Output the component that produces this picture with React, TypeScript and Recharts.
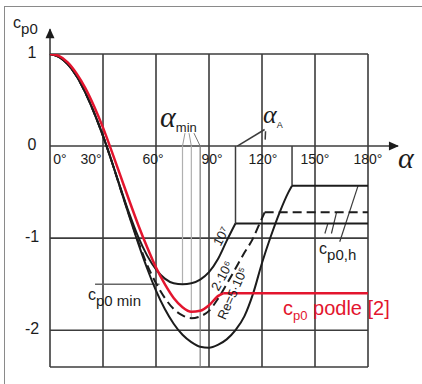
import React from 'react';
import { LineChart, Line, XAxis, YAxis, ReferenceLine, ReferenceDot } from 'recharts';

// pressure coefficient cp0 vs angle alpha [deg]
const re5e5 = [
  { a: 0, cp: 1 }, { a: 5, cp: 0.97 }, { a: 10, cp: 0.89 }, { a: 15, cp: 0.76 }, { a: 20, cp: 0.58 },
  { a: 25, cp: 0.36 }, { a: 30, cp: 0.11 }, { a: 35, cp: -0.17 }, { a: 40, cp: -0.47 }, { a: 45, cp: -0.77 },
  { a: 50, cp: -1.06 }, { a: 55, cp: -1.33 }, { a: 60, cp: -1.57 }, { a: 65, cp: -1.77 }, { a: 70, cp: -1.93 },
  { a: 75, cp: -2.05 }, { a: 80, cp: -2.13 }, { a: 85, cp: -2.18 }, { a: 90, cp: -2.19 }, { a: 95, cp: -2.16 },
  { a: 100, cp: -2.1 }, { a: 105, cp: -2.0 }, { a: 110, cp: -1.85 }, { a: 115, cp: -1.6 }, { a: 120, cp: -1.27 },
  { a: 125, cp: -0.98 }, { a: 130, cp: -0.72 }, { a: 135, cp: -0.5 }, { a: 137, cp: -0.43 }, { a: 180, cp: -0.43 },
];

const re2e6 = [
  { a: 0, cp: 1 }, { a: 5, cp: 0.97 }, { a: 10, cp: 0.89 }, { a: 15, cp: 0.76 }, { a: 20, cp: 0.58 },
  { a: 25, cp: 0.36 }, { a: 30, cp: 0.11 }, { a: 35, cp: -0.17 }, { a: 40, cp: -0.47 }, { a: 45, cp: -0.76 },
  { a: 50, cp: -1.04 }, { a: 55, cp: -1.29 }, { a: 60, cp: -1.49 }, { a: 65, cp: -1.65 }, { a: 70, cp: -1.77 },
  { a: 75, cp: -1.84 }, { a: 80, cp: -1.87 }, { a: 85, cp: -1.85 }, { a: 90, cp: -1.79 }, { a: 95, cp: -1.66 },
  { a: 100, cp: -1.5 }, { a: 105, cp: -1.33 }, { a: 110, cp: -1.16 }, { a: 115, cp: -1.0 }, { a: 118, cp: -0.87 },
  { a: 121.5, cp: -0.72 }, { a: 180, cp: -0.72 },
];

const re1e7 = [
  { a: 0, cp: 1 }, { a: 5, cp: 0.97 }, { a: 10, cp: 0.89 }, { a: 15, cp: 0.76 }, { a: 20, cp: 0.58 },
  { a: 25, cp: 0.36 }, { a: 30, cp: 0.11 }, { a: 35, cp: -0.17 }, { a: 40, cp: -0.46 }, { a: 45, cp: -0.74 },
  { a: 50, cp: -0.99 }, { a: 55, cp: -1.19 }, { a: 60, cp: -1.34 }, { a: 65, cp: -1.44 }, { a: 70, cp: -1.49 },
  { a: 75, cp: -1.5 }, { a: 80, cp: -1.49 }, { a: 85, cp: -1.45 }, { a: 90, cp: -1.37 }, { a: 95, cp: -1.23 },
  { a: 100, cp: -1.03 }, { a: 105, cp: -0.84 }, { a: 180, cp: -0.84 },
];

const podle2 = [
  { a: 0, cp: 1 }, { a: 5, cp: 0.98 }, { a: 10, cp: 0.91 }, { a: 15, cp: 0.79 }, { a: 20, cp: 0.63 },
  { a: 25, cp: 0.43 }, { a: 30, cp: 0.2 }, { a: 35, cp: -0.06 }, { a: 40, cp: -0.33 }, { a: 45, cp: -0.6 },
  { a: 50, cp: -0.86 }, { a: 55, cp: -1.1 }, { a: 60, cp: -1.32 }, { a: 65, cp: -1.5 }, { a: 70, cp: -1.65 },
  { a: 75, cp: -1.75 }, { a: 80, cp: -1.8 }, { a: 85, cp: -1.79 }, { a: 90, cp: -1.73 }, { a: 95, cp: -1.63 },
  { a: 98, cp: -1.6 }, { a: 180, cp: -1.6 },
];

const xTicks = [0, 30, 60, 90, 120, 150, 180];
const xTickLabels = ['0°', '30°', '60°', '90°', '120°', '150°', '180°'];
const yTicks = [1, 0, -1, -2];
const gridX = [30, 60, 90, 120, 150, 180];
const gridY = [1, -1, -2, -2.4];
const alphaMin = [75, 80, 85];
const cpMin = [-1.5, -1.87, -2.4];
const alphaA = [105, 137];
const cpH = [-0.84, -0.43];

// small pixel nudges for the x tick labels
const xLabelShift = [10, -12, -3, 3, 1, 0, 0];

const INK = '#1c1c1c';
const GRID = '#3c3c3c';
const RED = '#e3152e';
const SANS = '"Liberation Sans", Arial, sans-serif';
const SERIF = '"Liberation Serif", "Times New Roman", serif';

const note = (key: string, a: number, cp: number, draw: (cx: number, cy: number) => React.ReactElement) => (
  <ReferenceDot key={key} x={a} y={cp} r={1} ifOverflow="visible" fill="none" stroke="none"
    shape={(p: any) => draw(p.cx, p.cy)} />
);

const seg = (key: string, pts: [number, number][], stroke: string, width = 1.5) => (
  <ReferenceLine key={key} segment={pts.map(([x, y]) => ({ x, y }))} stroke={stroke} strokeWidth={width} ifOverflow="visible" />
);

const curve = (key: string, data: { a: number; cp: number }[], color: string, width: number, dash?: string) => [
  <Line key={key + 'c'} data={data.slice(0, -1)} dataKey="cp" type="monotone" stroke={color} strokeWidth={width}
    strokeDasharray={dash} dot={false} isAnimationActive={false} />,
  <Line key={key + 'p'} data={data.slice(-2)} dataKey="cp" type="linear" stroke={color} strokeWidth={width}
    strokeDasharray={dash} dot={false} isAnimationActive={false} />,
];

const YTick = ({ x, y, payload }: any) => (
  <text x={x - 10} y={y + 4} textAnchor="middle" fontSize={16} fill={INK} fontFamily={SANS}>{payload.value}</text>
);

export default function App() {
  return (
    <div style={{ position: 'relative', width: 422, height: 384, background: '#fff' }}>
      <style>{'body{margin:0}'}</style>
      <div style={{ position: 'absolute', left: 4, top: 6, right: 0, bottom: 0, borderTop: '1.5px solid #8a8a8a', borderLeft: '1.5px solid #8a8a8a' }} />
      <div style={{ position: 'absolute', left: 0, top: 0 }}>
        <LineChart width={422} height={384} margin={{ top: 54, right: 54, bottom: 17, left: 0 }}>
          <XAxis dataKey="a" type="number" domain={[0, 180]} ticks={xTicks} hide allowDuplicatedCategory={false} />
          <YAxis type="number" domain={[-2.4, 1]} ticks={yTicks} width={50} axisLine={false} tickLine={false}
            tick={<YTick />} interval={0} allowDataOverflow />

          {gridX.map((g) => <ReferenceLine key={'gx' + g} x={g} stroke={GRID} strokeWidth={1.6} />)}
          {gridY.map((g) => <ReferenceLine key={'gy' + g} y={g} stroke={GRID} strokeWidth={1.6} />)}

          {/* axes with arrows */}
          {seg('xaxis', [[0, 0], [197, 0]], GRID, 1.6)}
          {seg('yaxis', [[0, -2.4], [0, 1.27]], GRID, 1.6)}
          {note('xarrow', 197.5, 0, (cx, cy) => <path d={`M${cx} ${cy} l-10 -4.5 l0 9 z`} fill={INK} />)}
          {note('yarrow', 0, 1.28, (cx, cy) => <path d={`M${cx} ${cy} l-4.5 10 l9 0 z`} fill={INK} />)}

          {/* helper lines for alpha_min, alpha_A, cp0 min, cp0,h */}
          {alphaMin.map((a, i) => seg('am' + a, [[a, 0], [a, cpMin[i]]], i < 2 ? '#b0b0b0' : '#7a7a7a', 1.2))}
          {seg('amp1', [[76.4, 0.14], [75, 0]], '#999', 1)}
          {seg('amp2', [[78.7, 0.14], [80, 0]], '#999', 1)}
          {seg('amp3', [[81.5, 0.14], [85, 0]], '#777', 1)}
          {alphaA.map((a, i) => seg('aa' + a, [[a, 0], [a, cpH[i]]], GRID, 1.5))}
          {seg('aap1', [[106, 0], [121.5, 0.18]], GRID, 1.5)}
          {seg('aap2', [[122, 0.16], [121.8, 0.07]], GRID, 1.5)}
          {seg('aap3', [[129.6, 0.135], [134.5, 0.1], [137, 0]], GRID, 1.5)}
          {seg('cpmin', [[25.5, -1.5], [62, -1.5]], '#666', 1.5)}
          {seg('h1', [[155.6, -0.95], [157.3, -0.84]], GRID, 1.2)}
          {seg('h2', [[159.3, -0.95], [162.2, -0.72]], GRID, 1.2)}
          {seg('h3', [[164, -1.04], [174.4, -0.43]], GRID, 1.2)}

          {curve('re7', re1e7, INK, 2)}
          {curve('re6', re2e6, INK, 2, '9 5')}
          {curve('re5', re5e5, INK, 2)}
          {curve('red', podle2, RED, 2.5)}

          {/* x tick labels just under the alpha axis */}
          {xTicks.map((t, i) => note('xt' + t, t, 0, (cx, cy) => (
            <text x={cx + xLabelShift[i]} y={cy + 18} textAnchor="middle" fontSize={14} fill={INK} fontFamily={SANS}>{xTickLabels[i]}</text>
          )))}

          {note('ylab', -20.9, 1.282, (cx, cy) => (
            <text x={cx} y={cy} fontSize={16} fill={INK} fontFamily={SANS}>c<tspan dy={6} fontSize={15}>p0</tspan></text>
          ))}
          {note('xlab', 201.5, -0.238, (cx, cy) => (
            <text x={cx} y={cy} textAnchor="middle" fontSize={30} fontStyle="italic" fill={INK} fontFamily={SERIF}>α</text>
          ))}
          {note('amin', 62.3, 0.207, (cx, cy) => (
            <text x={cx} y={cy} fontSize={30} fontStyle="italic" fill={INK} fontFamily={SERIF}>α<tspan dy={5} fontSize={13} fontStyle="normal" fontFamily={SANS}>min</tspan></text>
          ))}
          {note('aA', 120.6, 0.25, (cx, cy) => (
            <text x={cx} y={cy} fontSize={26} fontStyle="italic" fill={INK} fontFamily={SERIF}>α<tspan dy={5} fontSize={9} fontStyle="normal" fontFamily={SANS}>A</tspan></text>
          ))}
          {note('l7', 96.8, -0.98, (cx, cy) => (
            <text x={cx} y={cy} textAnchor="middle" dominantBaseline="central" fontSize={13} fill={INK} fontFamily={SANS}
              transform={`rotate(-62 ${cx} ${cy})`}>10⁷</text>
          ))}
          {note('l6', 97.3, -1.41, (cx, cy) => (
            <text x={cx} y={cy} textAnchor="middle" dominantBaseline="central" fontSize={13} fill={INK} fontFamily={SANS}
              transform={`rotate(-62 ${cx} ${cy})`}>2·10⁶</text>
          ))}
          {note('l5', 103.3, -1.6, (cx, cy) => (
            <text x={cx} y={cy} textAnchor="middle" dominantBaseline="central" fontSize={13} fill={INK} fontFamily={SANS}
              transform={`rotate(-66 ${cx} ${cy})`}>Re=5·10⁵</text>
          ))}
          {note('cpmin', 21.5, -1.672, (cx, cy) => (
            <text x={cx} y={cy} fontSize={16} fill={INK} fontFamily={SANS}>c<tspan dy={6} fontSize={15}>p0 min</tspan></text>
          ))}
          {note('cph', 152.3, -1.172, (cx, cy) => (
            <text x={cx} y={cy} fontSize={16} fill={INK} fontFamily={SANS}>c<tspan dy={6} fontSize={15}>p0,h</tspan></text>
          ))}
          {note('podle', 131.9, -1.835, (cx, cy) => (
            <text x={cx} y={cy} fontSize={20} fill={RED} fontFamily={SANS}>c<tspan dy={5} fontSize={13}>p0</tspan><tspan dy={-5} fontSize={20}> podle [2]</tspan></text>
          ))}
        </LineChart>
      </div>
    </div>
  );
}
